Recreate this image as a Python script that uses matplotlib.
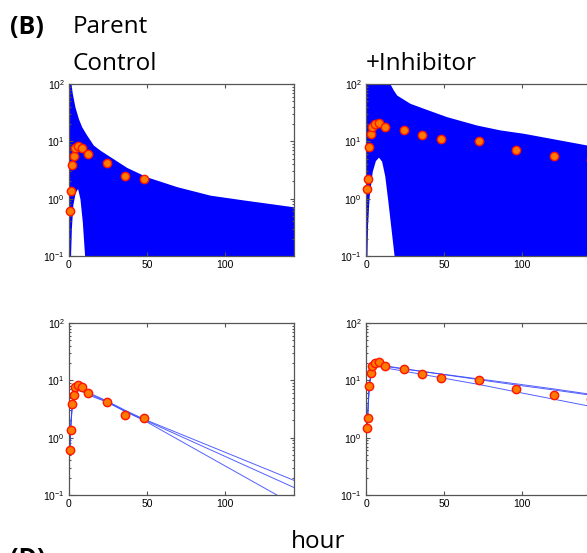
import numpy as np
import matplotlib
matplotlib.use("Agg")
import matplotlib.pyplot as plt
from matplotlib.ticker import LogLocator, NullFormatter

plt.rcParams['font.family'] = ['Liberation Sans', 'DejaVu Sans']
plt.rcParams['mathtext.fontset'] = 'custom'
plt.rcParams['mathtext.rm'] = 'Liberation Sans'
plt.rcParams['mathtext.it'] = 'Liberation Sans:italic'

# observed concentrations (hour, value)
ctrl_t = [0.5, 1, 2, 3, 4, 6, 8, 12, 24, 36, 48]
ctrl_c = [0.61, 1.37, 3.8, 5.6, 7.6, 8.4, 7.6, 5.9, 4.25, 2.45, 2.17]
inh_t = [0.5, 1, 2, 3, 4, 6, 8, 12, 24, 36, 48, 72, 96, 120, 144]
inh_c = [1.45, 2.2, 7.9, 13.6, 17.8, 20.3, 20.9, 17.5, 15.6, 12.9, 11.1, 10.0, 7.0, 5.5, 4.7]

# upper edge of the simulated cloud
ctrl_env_t = [0, 0.5, 1.3, 2.1, 3.8, 6.0, 8.1, 11.3, 15.6, 19.9, 26.3, 37, 49.8, 69, 90.4, 111.7, 144]
ctrl_env_c = [100, 100, 100, 69, 40, 25, 18, 12.9, 8.6, 7.0, 5.4, 3.5, 2.4, 1.62, 1.15, 0.95, 0.72]
inh_env_t = [0, 15.4, 17.5, 19.7, 28.2, 36.8, 51.7, 71, 85.9, 100.9, 141.7, 145]
inh_env_c = [100, 100, 78.5, 64, 46, 37.7, 26.9, 19.2, 15.8, 13.8, 8.6, 8.4]

# empty region of the cloud near t=0
ctrl_gap_t = [1.0, 1.5, 2.5, 4, 5.5, 7, 8.5, 10]
ctrl_gap_c = [0.1, 0.3, 0.8, 1.3, 1.5, 1.0, 0.4, 0.1]
inh_gap_t = [0.6, 1, 2, 4, 6, 8, 10, 12, 14, 16, 18]
inh_gap_c = [0.1, 0.35, 1.1, 3.0, 4.6, 5.3, 4.5, 2.5, 0.9, 0.3, 0.1]

# fitted curves
ctrl_fit_t = [0, 0.5, 1, 2, 3, 4, 6, 8, 12, 24, 36, 48, 144]
ctrl_fits = [
    [0.4, 0.6, 1.4, 3.5, 5.2, 6.2, 6.9, 6.9, 6.2, 4.4, 3.0, 2.1, 0.18],
    [0.4, 0.6, 1.4, 3.6, 5.3, 6.3, 6.8, 6.7, 5.9, 4.3, 2.9, 2.05, 0.135],
    [0.4, 0.6, 1.3, 3.4, 5.0, 6.0, 6.6, 6.5, 5.6, 4.2, 2.85, 2.0, 0.068],
]
inh_fit_t = [0, 0.5, 1, 2, 3, 4, 6, 8, 12, 24, 48, 72, 96, 120, 144]
inh_fits = [
    [0.85, 1.4, 2.2, 7.5, 12, 15, 17.5, 18, 17.5, 15.8, 12.9, 10.6, 8.7, 7.1, 5.7],
    [0.85, 1.4, 2.3, 7.8, 12.5, 15.5, 18, 18.5, 18, 16, 12.8, 10.3, 8.3, 6.8, 5.5],
    [0.85, 1.4, 2.1, 7.2, 11.5, 14.5, 17, 17.5, 16.5, 14.5, 11.1, 8.5, 6.3, 4.7, 3.5],
]

FLOOR = 1e-2
W, H = 587, 553
fig = plt.figure(figsize=(W / 100, H / 100), dpi=100)

def make_ax(x0, y0):
    ax = fig.add_axes([x0 / W, 1 - (y0 + 172) / H, 225 / W, 172 / H])
    ax.set_yscale('log')
    ax.set_xlim(0, 144)
    ax.set_ylim(0.1, 100)
    ax.set_xticks([0, 50, 100])
    ax.yaxis.set_major_locator(LogLocator(base=10, numticks=5))
    ax.yaxis.set_minor_locator(LogLocator(base=10, subs=np.arange(2, 10), numticks=10))
    ax.yaxis.set_minor_formatter(NullFormatter())
    ax.tick_params(which='both', direction='in', top=True, right=True, colors='#555555',
                   labelcolor='black', labelsize=7.5, width=0.8)
    ax.tick_params(which='major', length=2.8, pad=3)
    ax.tick_params(which='minor', length=1.6)
    for s in ax.spines.values():
        s.set_color('#555555')
        s.set_linewidth(0.9)
    return ax

def dots(ax, t, c):
    ax.plot(t, c, 'o', ms=6, mfc='#FF7A00', mec='#FF1500', mew=1.0, zorder=5, clip_on=False)

ax1 = make_ax(69, 84)
ax1.fill_between(ctrl_env_t, FLOOR, ctrl_env_c, color='#0000FF', lw=0)
ax1.fill_between(ctrl_gap_t, FLOOR, ctrl_gap_c, color='white', lw=0)
dots(ax1, ctrl_t, ctrl_c)

ax2 = make_ax(366, 84)
ax2.fill_between(inh_env_t, FLOOR, inh_env_c, color='#0000FF', lw=0)
ax2.fill_between(inh_gap_t, FLOOR, inh_gap_c, color='white', lw=0)
dots(ax2, inh_t, inh_c)

ax3 = make_ax(69, 323)
for f in ctrl_fits:
    ax3.plot(ctrl_fit_t, f, color='#3344FF', lw=0.7, alpha=0.85)
dots(ax3, ctrl_t, ctrl_c)

ax4 = make_ax(366, 323)
for f in inh_fits:
    ax4.plot(inh_fit_t, f, color='#3344FF', lw=0.7, alpha=0.85)
dots(ax4, inh_t, inh_c)

head = ['Open Sans', 'DejaVu Sans']
fig.text(10 / W, 1 - 34 / H, '(B)', family=head, weight='bold', fontsize=18)
fig.text(73 / W, 1 - 33 / H, 'Parent', family=head, fontsize=17.5)
fig.text(73 / W, 1 - 70 / H, 'Control', family=head, fontsize=17.5)
fig.text(366 / W, 1 - 70 / H, '+Inhibitor', family=head, fontsize=17.5)
fig.text(291 / W, 1 - 548 / H, 'hour', family=head, fontsize=17.5)
fig.text(10 / W, 1 - 566 / H, '(D)', family=head, weight='bold', fontsize=18)

fig.savefig('out.png', dpi=100)
